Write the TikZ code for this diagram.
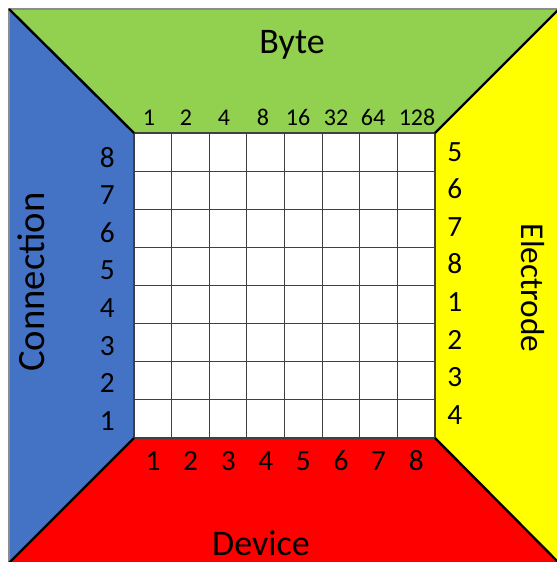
\documentclass[tikz,border=0pt]{standalone}
\usepackage{fontspec}
\setmainfont{Carlito}

\definecolor{connblue}{HTML}{4472C4}
\definecolor{bytegreen}{HTML}{92D050}
\definecolor{electyellow}{HTML}{FFFF00}
\definecolor{devred}{HTML}{FF0000}

\tikzset{
  diag/.style={black,line width=1.8pt},
  gridline/.style={black!75,line width=0.8pt},
  sidelabel/.style={font=\fontsize{27}{30}\selectfont},
  bitnum/.style={inner sep=0pt,font=\fontsize{22}{25}\selectfont},
  bytenum/.style={inner sep=0pt,font=\fontsize{18}{21}\selectfont}
}

\begin{document}
\begin{tikzpicture}[x=0.75pt,y=-0.75pt]
  \useasboundingbox (0,0) rectangle (557,562);

  % outer corners and corners of the grid
  \coordinate (A) at (9,9);
  \coordinate (B) at (559,9);
  \coordinate (C) at (559,563);
  \coordinate (D) at (9,563);
  \coordinate (a) at (134,133);
  \coordinate (b) at (435,133);
  \coordinate (c) at (435,438);
  \coordinate (d) at (134,438);

  \fill[bytegreen] (A) -- (B) -- (b) -- (a) -- cycle;
  \fill[electyellow] (B) -- (C) -- (c) -- (b) -- cycle;
  \fill[devred] (C) -- (D) -- (d) -- (c) -- cycle;
  \fill[connblue] (D) -- (A) -- (a) -- (d) -- cycle;
  \fill[white] (a) rectangle (c);
  \draw[black!45,line width=0.8pt] (A) rectangle (C);

  % 8x8 grid
  \foreach \i in {0,...,8} {
    \draw[gridline] (134+\i*37.625,133) -- (134+\i*37.625,438);
    \draw[gridline] (134,133+\i*38.125) -- (435,133+\i*38.125);
  }

  \draw[diag] (A) -- (a);
  \draw[diag] (B) -- (b);
  \draw[diag] (C) -- (c);
  \draw[diag] (D) -- (d);

  \node[sidelabel,anchor=base] (byte) at (292,53) {Byte};
  \node[sidelabel,anchor=base] (device) at (261,555) {Device};
  \node[sidelabel,font=\fontsize{29}{32}\selectfont,rotate=90,anchor=base] (conn) at (45,282) {Connection};
  \node[sidelabel,font=\fontsize{25}{28}\selectfont,rotate=-90,anchor=base] (elec) at (521,288) {Electrode};

  \foreach \x/\t [count=\k] in {149/1,186/2,224/4,263/8,298/16,336/32,373/64,417/128}
    \node[bytenum,anchor=base] (top\k) at (\x,125) {\t};
  \foreach \t [count=\k from 0] in {8,7,6,5,4,3,2,1}
    \node[bitnum,anchor=base east] (conn\t) at (115,167+\k*37.6) {\t};
  \foreach \t [count=\k from 0] in {5,6,7,8,1,2,3,4}
    \node[bitnum,anchor=base west] (elec\k) at (447,161+\k*37.6) {\t};
  \foreach \t [count=\k from 0] in {1,...,8}
    \node[bitnum,anchor=base] (dev\t) at (153+\k*37.6,470) {\t};
\end{tikzpicture}
\end{document}
